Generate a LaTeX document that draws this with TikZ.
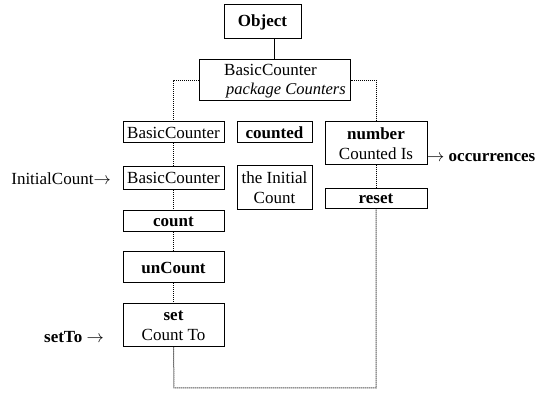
\documentclass[tikz,border=0pt]{standalone}
\usepackage{fontspec}
\setmainfont{Liberation Serif}
\tikzset{
  box/.style={draw, line width=1pt, inner sep=0pt, align=center, font=\fontsize{17}{20}\selectfont},
  dots/.style={line width=1pt, dash pattern=on 1pt off 1pt},
  lab/.style={inner sep=0pt, font=\fontsize{17}{20}\selectfont}
}
\begin{document}
\begin{tikzpicture}[x=1pt,y=-1pt]
\useasboundingbox (0,0) rectangle (550,409);
% top
\node[box, minimum width=77pt, minimum height=34pt] (obj) at (262.5,22) {\textbf{Object}};
\node[box, minimum width=151pt, minimum height=41pt] (bc) at (274.5,80.5) {};
\node[lab] (bct) at (270.5,70) {BasicCounter};
\node[lab, anchor=east, font=\fontsize{16.5}{20}\selectfont] (bcp) at (346,91) {\textit{package Counters}};
\draw[line width=1pt] (bc.north) -- (bc.north |- obj.south);
% left column
\node[box, minimum width=101pt, minimum height=21pt] (b1) at (173.5,132.5) {BasicCounter};
\node[box, minimum width=101pt, minimum height=23pt] (b2) at (173.5,178) {BasicCounter};
\node[box, minimum width=101pt, minimum height=21pt] (cnt) at (173.5,221.5) {\textbf{count}};
\node[box, minimum width=101pt, minimum height=31pt] (unc) at (173.5,267.5) {\textbf{unCount}};
\node[box, minimum width=101pt, minimum height=43pt] (set) at (173.5,325.5) {\textbf{set}\\Count To};
% middle column
\node[box, minimum width=75pt, minimum height=21pt] (cntd) at (274.5,132.5) {\textbf{counted}};
\node[box, minimum width=75pt, minimum height=44pt] (tic) at (274.5,188) {the Initial\\Count};
% right column
\node[box, minimum width=102pt, minimum height=43pt] (num) at (376,143.5) {\textbf{number}\\Counted Is};
\node[box, minimum width=102pt, minimum height=20pt] (rst) at (376,199) {\textbf{reset}};
% labels
\node[lab, anchor=east] (ic) at (111,178.5) {InitialCount$\rightarrow$};
\node[lab, anchor=east] (st) at (104,337.5) {\textbf{setTo} $\rightarrow$};
\node[lab, anchor=west] (occ) at (427,157.5) {$\rightarrow$ \textbf{occurrences}};
% dotted frame
\coordinate (bl) at (174,388);
\coordinate (br) at (376,388);
\draw[dots] (bc.west) -| (b1.north);
\draw[dots] (b1.south) -- (b2.north);
\draw[dots] (b2.south) -- (cnt.north);
\draw[dots] (cnt.south) -- (unc.north);
\draw[dots] (unc.south) -- (set.north);
\draw[dots] (set.south) -- (bl) -- (br) -- (rst.south);
\draw[dots] (rst.north) -- (num.south);
\draw[dots] (num.north) |- (bc.east);
\end{tikzpicture}
\end{document}
